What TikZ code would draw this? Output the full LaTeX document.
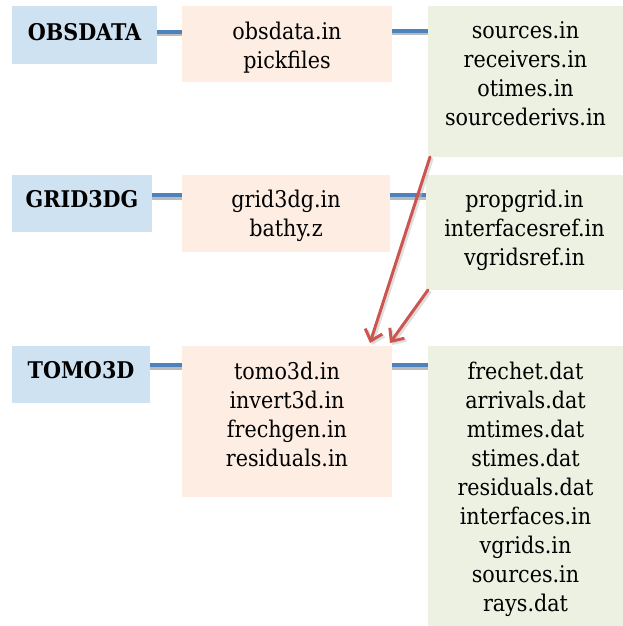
\documentclass[tikz,border=0pt]{standalone}
\usepackage{fontspec}
\setmainfont{DejaVu Serif Condensed}
\usetikzlibrary{arrows.meta}
\definecolor{boxblue}{RGB}{207,226,242}
\definecolor{boxpeach}{RGB}{253,237,227}
\definecolor{boxgreen}{RGB}{236,241,226}
\definecolor{linkblue}{RGB}{79,129,189}
\definecolor{arrowred}{RGB}{205,85,80}
\tikzset{
  every node/.style={inner sep=0pt, outer sep=0pt},
  prog/.style={fill=boxblue, anchor=north west},
  infile/.style={fill=boxpeach, anchor=north west},
  outfile/.style={fill=boxgreen, anchor=north west},
  txt/.style={anchor=north, align=center, font=\fontsize{23}{29}\selectfont},
  progtxt/.style={anchor=north, align=center, font=\fontsize{23}{29}\selectfont\bfseries},
  linkshadow/.style={draw=black!45, line width=3pt, opacity=0.6},
  link/.style={draw=linkblue, line width=4pt},
  arrowshadow/.style={draw=black!25, line width=3pt, line cap=round, opacity=0.5,
    -{Straight Barb[length=10pt,width=18pt,line width=3pt]}},
  flow/.style={draw=arrowred, line width=3pt, line cap=round,
    -{Straight Barb[length=10pt,width=18pt,line width=3pt]}}
}
\begin{document}
\begin{tikzpicture}[x=1pt,y=-1pt]
\useasboundingbox (0,0) rectangle (623,626);
% boxes
\node[prog, minimum width=145, minimum height=58] (obs) at (12,6) {};
\node[infile, minimum width=210, minimum height=76] (obsf) at (182,6) {};
\node[outfile, minimum width=195, minimum height=151] (obsout) at (428,6) {};
\node[prog, minimum width=140, minimum height=57] (grid) at (12,175) {};
\node[infile, minimum width=208, minimum height=77] (gridf) at (182,175) {};
\node[outfile, minimum width=197, minimum height=115] (gridout) at (426,175) {};
\node[prog, minimum width=138, minimum height=57] (tomo) at (12,346) {};
\node[infile, minimum width=210, minimum height=151] (tomof) at (182,346) {};
\node[outfile, minimum width=195, minimum height=280] (tomoout) at (428,346) {};
% texts
\node[progtxt] (obsT) at ([yshift=-17]obs.north) {OBSDATA};
\node[txt] (obsfT) at ([yshift=-16]obsf.north) {obsdata.in\\pickfiles};
\node[txt] (obsoutT) at ([yshift=-16]obsout.north) {sources.in\\receivers.in\\otimes.in\\sourcederivs.in};
\node[progtxt] (gridT) at ([yshift=-15]grid.north) {GRID3DG};
\node[txt] (gridfT) at ([yshift=-15]gridf.north) {grid3dg.in\\bathy.z};
\node[txt] (gridoutT) at ([yshift=-15]gridout.north) {propgrid.in\\interfacesref.in\\vgridsref.in};
\node[progtxt] (tomoT) at ([yshift=-15]tomo.north) {TOMO3D};
\node[txt] (tomofT) at ([yshift=-16]tomof.north) {tomo3d.in\\invert3d.in\\frechgen.in\\residuals.in};
\node[txt] (tomooutT) at ([yshift=-16]tomoout.north) {frechet.dat\\arrivals.dat\\mtimes.dat\\stimes.dat\\residuals.dat\\interfaces.in\\vgrids.in\\sources.in\\rays.dat};
% links (shadow then line)
\foreach \a/\b/\d in {obs/obsf/26, obsf/obsout/25, grid/gridf/20, gridf/gridout/20, tomo/tomof/19, tomof/tomoout/19}{
  \draw[linkshadow] ([yshift=-\d pt-3pt]\a.north east) -- ([yshift=-\d pt-3pt]\b.north west);
  \draw[link] ([yshift=-\d pt]\a.north east) -- ([yshift=-\d pt]\b.north west);
}
% arrows
\draw[arrowshadow] ([xshift=4pt,yshift=-2pt]obsout.south west) -- ([xshift=-20pt,yshift=1pt]tomof.north east);
\draw[arrowshadow] ([xshift=4pt,yshift=-2pt]gridout.south west) -- ([xshift=0pt,yshift=1pt]tomof.north east);
\draw[flow] ([xshift=2pt]obsout.south west) -- ([xshift=-22pt,yshift=3pt]tomof.north east);
\draw[flow] ([xshift=2pt]gridout.south west) -- ([xshift=-2pt,yshift=3pt]tomof.north east);
\end{tikzpicture}
\end{document}
